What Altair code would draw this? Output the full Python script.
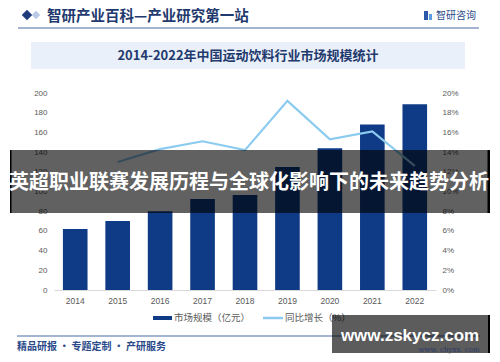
import altair as alt
import pandas as pd

# ---- data ----
years = ["2014", "2015", "2016", "2017", "2018", "2019", "2020", "2021", "2022"]
market = [62, 70, 80, 92.5, 96.5, 125, 144, 168, 188.5]          # 市场规模（亿元）
growth = [None, 13.0, 14.3, 15.1, 14.2, 19.2, 15.3, 16.1, 12.6]  # 同比增长（%）
left_ticks = [0, 20, 40, 60, 80, 100, 120, 140, 160, 180, 200]
right_ticks = [0, 2, 4, 6, 8, 10, 12, 14, 16, 18, 20]

header_text = "智研产业百科—产业研究第一站"
brand_text = "智研咨询"
title_text = "2014-2022年中国运动饮料行业市场规模统计"
legend_bar = "市场规模（亿元）"
legend_line = "同比增长（%）"
footer_text = "精品研报 · 专题定制 · 产研服务"
banner_text = "英超职业联赛发展历程与全球化影响下的未来趋势分析"
site_text = "www.zskycz.com"
site_small = "www. chyxx. com"

df = pd.DataFrame({"year": years, "market": market, "growth": growth})
one = pd.DataFrame({"k": [0]})

CJK = "Noto Sans CJK SC"
LAB = "Liberation Sans"
OX, OY = 54, 93  # screen position of plot origin


def px(sx):
    return sx - OX


def py(sy):
    return sy - OY


def rect(x1, y1, x2, y2, color, opacity=1.0):
    return alt.Chart(one).mark_rect(color=color, opacity=opacity).encode(
        x=alt.value(px(x1)), x2=alt.value(px(x2)),
        y=alt.value(py(y1)), y2=alt.value(py(y2)))


def hline(x1, x2, y, color, width=1.0):
    return alt.Chart(one).mark_rule(color=color, strokeWidth=width).encode(
        x=alt.value(px(x1)), x2=alt.value(px(x2)), y=alt.value(py(y)))


def text(s, x, y, size, color, weight="normal", align="left", font=CJK, opacity=1.0):
    return alt.Chart(one).mark_text(
        text=s, align=align, baseline="middle", fontSize=size, color=color,
        fontWeight=weight, font=font, opacity=opacity).encode(
        x=alt.value(px(x)), y=alt.value(py(y)))


def point(x, y, size, color, shape="diamond"):
    return alt.Chart(one).mark_point(shape=shape, filled=True, size=size, color=color, opacity=1).encode(
        x=alt.value(px(x)), y=alt.value(py(y)))


x_enc = alt.X("year:N", sort=years, title=None,
              scale=alt.Scale(paddingInner=0.42, paddingOuter=0.21),
              axis=alt.Axis(labelAngle=0, ticks=False, domain=True, domainColor="#d9d9d9",
                            labelColor="#595959", labelFontSize=8.5, labelFont=LAB,
                            labelPadding=6))

bars = alt.Chart(df).mark_bar(color="#0e3a86").encode(
    x=x_enc,
    y=alt.Y("market:Q", title=None, scale=alt.Scale(domain=[0, 200]),
            axis=alt.Axis(values=left_ticks, grid=False, ticks=False, domain=False,
                          labelColor="#595959", labelFontSize=8, labelFont=LAB,
                          labelPadding=7)))

line = alt.Chart(df).transform_filter("isValid(datum.growth)").mark_line(
    color="#8ccbf0", strokeWidth=2.2).encode(
    x=alt.X("year:N", sort=years, title=None),
    y=alt.Y("growth:Q", title=None, scale=alt.Scale(domain=[0, 20]),
            axis=alt.Axis(orient="right", values=right_ticks, grid=False, ticks=False,
                          domain=False, labelExpr="datum.value + '%'",
                          labelColor="#595959", labelFontSize=8, labelFont=LAB,
                          labelPadding=6)))

data_layer = alt.layer(bars, line).resolve_scale(y="independent")

decor_back = [
    # header
    point(36, 15, 70, "#b9c9e6"),
    point(27, 15, 110, "#1f3a7a"),
    text(header_text, 47, 17, 14.5, "#1f3a6e", weight="bold"),
    rect(424, 11, 428, 20, "#2b58a8"),
    rect(429, 14, 432, 20, "#5aa0e0"),
    text(brand_text, 436, 16, 10, "#2a4a8a"),
    hline(18, 479, 28, "#4a6aa8", 1.2),
    # title band
    rect(31, 42, 465, 69, "#eaf0f9"),
    text(title_text, 248, 55.5, 13, "#1f3a6e", weight="bold", align="center"),
]

decor_front = [
    # legend
    rect(153, 316, 172, 320, "#0e3a86"),
    text(legend_bar, 174, 318, 9.5, "#595959"),
    hline(263, 283, 318, "#8ccbf0", 2.5),
    text(legend_line, 285, 318, 9.5, "#595959"),
    # footer
    hline(17, 480, 336, "#4a6aa8", 1.2),
    text(footer_text, 17, 347, 10, "#2a4a8a", weight="bold"),
    # banner overlay
    rect(10, 150, 491, 213, "#000000", 0.62),
    rect(10, 150, 11.5, 213, "#000000"),
    rect(487.5, 150, 491, 213, "#000000"),
    text(banner_text, 249, 183, 20, "#ffffff", weight="bold", align="center"),
    # site overlay
    rect(332, 315, 491, 353, "#000000", 0.64),
    rect(488, 315, 491, 353, "#000000"),
    text(site_text, 410, 336, 17, "#ffffff", weight="bold", align="center", font=LAB),
    text(site_small, 449, 349.5, 7, "#2a3a6a", align="center", font="DejaVu Serif"),
]

chart = alt.layer(*decor_back, data_layer, *decor_front).properties(
    width=382, height=197,
    padding={"left": 46, "top": 85, "right": 54, "bottom": 64},
    autosize=alt.AutoSizeParams(type="none"),
    background="#ffffff",
).configure_view(stroke=None)

chart.save("out.html", embed_options={"renderer": "svg", "actions": False})
